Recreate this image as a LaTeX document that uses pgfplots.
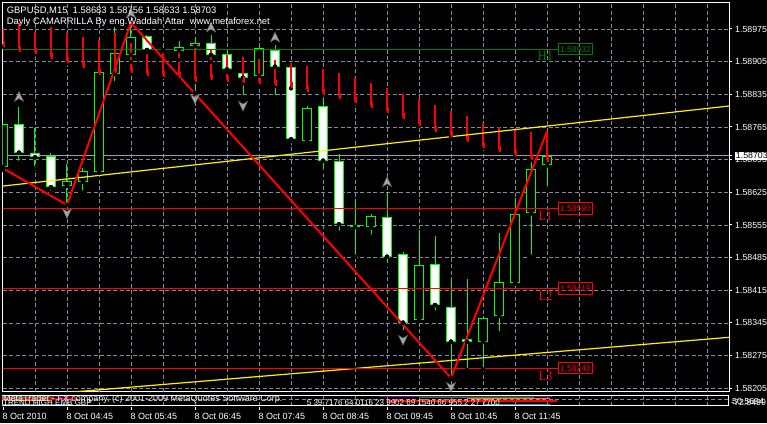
\documentclass[border=0pt]{standalone}
\usepackage{fontspec}
\setmainfont{Liberation Sans}
\newfontfamily\levelfont{Liberation Serif}
\usepackage{pgfplots}
\usepackage{pgfplotstable}
\pgfplotsset{compat=1.18}

\definecolor{candle}{RGB}{0,255,0}
\definecolor{gridc}{RGB}{128,140,158}
\definecolor{bidc}{RGB}{150,160,178}
\definecolor{hlevel}{RGB}{0,128,0}
\definecolor{llevel}{RGB}{255,0,0}
\definecolor{fractal}{RGB}{165,165,165}
\definecolor{fractaledge}{RGB}{110,110,110}

\newcommand\tfont{\fontsize{9}{10}\selectfont}
\newcommand\pfont{\fontsize{8.8}{10}\selectfont}
% time label with its small separator tick above the text
\newcommand\tlab[1]{\smash{\rlap{\raisebox{9.3pt}{\rule{1pt}{3.3pt}}}}#1}

% prices in points above 1.58000 (1 point = 0.00001), bars of 15 minutes from 03:45
\pgfplotstableread{
i o h l c
0 679.3 784.3 672.8 771.4
1 771.4 808.5 688.5 709.9
2 708.6 762.8 676.5 700.0
3 702.8 709.3 624.2 635.8
4 639.2 685.7 597.8 649.3
5 647.8 676.5 624.2 670.7
6 667.9 885.0 666.4 883.5
7 878.6 979.9 858.6 924.2
8 919.3 988.5 904.3 958.5
9 960.0 962.1 925.7 930.0
10 931.5 936.4 927.9 929.0
11 927.9 949.9 908.6 937.1
12 938.6 955.7 837.8 944.4
13 944.4 962.1 904.3 919.3
14 921.4 930.0 882.9 888.6
15 880.1 914.4 828.6 870.6
16 874.3 937.5 855.0 933.6
17 930.0 940.7 828.6 894.2
18 892.9 902.1 735.0 738.6
19 735.0 810.0 730.7 805.1
20 810.0 826.5 669.2 692.8
21 692.1 707.1 538.5 556.5
22 555.0 607.0 487.0 550.7
23 550.0 578.5 529.9 574.2
24 571.5 626.3 469.2 487.0
25 492.2 497.7 325.0 345.6
26 351.4 544.2 349.2 469.2
27 471.4 531.4 367.0 383.5
28 379.9 439.2 227.1 304.9
29 310.6 438.6 244.2 304.9
30 304.9 355.6 245.7 355.0
31 359.9 537.2 322.9 433.4
32 431.3 612.2 429.6 578.5
33 580.0 705.0 487.0 674.3
34 683 756 633 703
}\ohlc

% trend indicator bars (top and bottom of each red bar)
\pgfplotstableread{
i top bot
0 976.5 937.1
1 987.2 926.4
2 969.2 920.8
3 978.6 910.1
4 965.8 901.5
5 958.5 890.8
6 951.4 876.4
7 965.8 880.1
8 944.4 880.1
9 933.6 874.2
10 933.6 872.8
11 930.0 870.6
12 930.0 862.1
13 930.0 865.7
14 919.3 862.1
15 914.4 858.6
16 910.1 857.1
17 908.6 852.8
18 901.5 847.9
19 895.7 840.6
20 889.3 833.6
21 880.1 825.0
22 870.6 815.8
23 858.6 805.0
24 849.2 794.3
25 835.7 781.5
26 825.0 767.1
27 812.1 754.9
28 799.3 742.9
29 788.6 732.8
30 773.5 720.0
31 764.9 711.4
32 758.6 702.8
33 754.3 694.3
34 754.3 690.0
}\trendbars

\pgfplotstableread{
i y
1 829.9
8 1008.6
13 978.6
17 957.2
24 647.1
}\fracup

\pgfplotstableread{
i y
4 580.0
12 825.0
15 810.0
25 308.5
28 207.8
}\fracdown

\pgfdeclareplotmark{fractalup}{%
  \pgfpathmoveto{\pgfqpoint{0pt}{5pt}}%
  \pgfpathlineto{\pgfqpoint{4.5pt}{-4.5pt}}%
  \pgfpathlineto{\pgfqpoint{0pt}{-1.8pt}}%
  \pgfpathlineto{\pgfqpoint{-4.5pt}{-4.5pt}}%
  \pgfpathclose
  \pgfusepathqfillstroke}
\pgfdeclareplotmark{fractaldown}{%
  \pgfpathmoveto{\pgfqpoint{0pt}{-5pt}}%
  \pgfpathlineto{\pgfqpoint{4.5pt}{4.5pt}}%
  \pgfpathlineto{\pgfqpoint{0pt}{1.8pt}}%
  \pgfpathlineto{\pgfqpoint{-4.5pt}{4.5pt}}%
  \pgfpathclose
  \pgfusepathqfillstroke}
\pgfdeclareplotmark{trendtail}{%
  \pgfpathrectangle{\pgfqpoint{-0.2pt}{0pt}}{\pgfqpoint{2.2pt}{6pt}}%
  \pgfusepathqfill}

\begin{document}
\begin{tikzpicture}
\useasboundingbox (0,0) rectangle (767pt,423pt);
\fill[black] (0,0) rectangle (767pt,423pt);

\begin{axis}[
  at={(2.5pt,31.3pt)}, anchor=south west,
  scale only axis, width=726.8pt, height=389.2pt,
  xmin=-0.03, xmax=45.39, ymin=197.7, ymax=1031.8,
  axis line style={white, line width=1pt},
  tick align=outside, major tick length=3pt,
  tick style={white, line width=1pt},
  ytick pos=right, yticklabel pos=right,
  ytick={205,275,...,975},
  yticklabels={1.58205,1.58275,1.58345,1.58415,1.58485,1.58555,1.58625,1.58695,1.58765,1.58835,1.58905,1.58975},
  yticklabel style={font=\pfont, text=white, anchor=west, inner sep=0pt, xshift=2.7pt},
  ymajorgrids,
  major grid style={gridc, line width=0.9pt, dash pattern=on 4pt off 2.5pt},
  xtick pos=bottom,
  xtick={0,4,...,32},
  xticklabels={\tlab{8 Oct 2010},\tlab{8 Oct 04:45},\tlab{8 Oct 05:45},\tlab{8 Oct 06:45},\tlab{8 Oct 07:45},\tlab{8 Oct 08:45},\tlab{8 Oct 09:45},\tlab{8 Oct 10:45},\tlab{8 Oct 11:45}},
  xtick style={draw=none},
  xticklabel style={font=\tfont, text=white, anchor=base west, inner sep=0pt, yshift=-24.6pt, xshift=-0.5pt},
  extra x ticks={2,4,...,44},
  extra x tick labels={},
  extra x tick style={grid=major},
  extra y ticks={703},
  extra y tick labels={1.58703},
  extra y tick style={grid=major, major grid style={solid, bidc, line width=1pt},
    yticklabel style={fill=white, text=black, inner xsep=1.2pt, inner ysep=1.3pt, xshift=-0.5pt}},
]

% candle wicks
\addplot[only marks, mark=none, error bars/.cd, y dir=plus, y explicit, error mark=none,
  error bar style={draw=candle, line width=1pt}]
  table[x=i, y=l, y error plus expr={\thisrow{h}-\thisrow{l}}] {\ohlc};
% candle body outlines
\addplot[only marks, mark=none, error bars/.cd, y dir=plus, y explicit, error mark=none,
  error bar style={draw=candle, line width=10.5pt}]
  table[x=i, y expr={min(\thisrow{o},\thisrow{c})}, y error plus expr={abs(\thisrow{c}-\thisrow{o})}] {\ohlc};
% falling bars: white bodies
\addplot[only marks, mark=none, restrict expr to domain={\thisrow{o}-\thisrow{c}}{0:5000},
  error bars/.cd, y dir=plus, y explicit, error mark=none,
  error bar style={draw=white, line width=8.5pt, shorten <=1pt, shorten >=1pt}]
  table[x=i, y expr={min(\thisrow{o},\thisrow{c})}, y error plus expr={abs(\thisrow{c}-\thisrow{o})}] {\ohlc};
% rising bars: black bodies
\addplot[only marks, mark=none, restrict expr to domain={\thisrow{c}-\thisrow{o}}{0.01:5000},
  error bars/.cd, y dir=plus, y explicit, error mark=none,
  error bar style={draw=black, line width=8.5pt, shorten <=1pt, shorten >=1pt}]
  table[x=i, y expr={min(\thisrow{o},\thisrow{c})}, y error plus expr={abs(\thisrow{c}-\thisrow{o})}] {\ohlc};

% red trend indicator
\addplot[only marks, mark=none, error bars/.cd, y dir=plus, y explicit, error mark=none,
  error bar style={draw=red, line width=2pt}]
  table[x=i, y=bot, y error plus expr={\thisrow{top}-\thisrow{bot}}] {\trendbars};
\addplot[only marks, mark=trendtail, mark options={fill=red, draw=none}]
  table[x=i, y=bot] {\trendbars};

% channel lines
\addplot[yellow, line width=1.2pt] coordinates {(-1,634.7) (46,812.3)};
\addplot[yellow, line width=1.2pt] coordinates {(-1,181.7) (46,316.1)};

% daily Camarilla levels
\addplot[hlevel, line width=1pt] coordinates {(-1,932) (34.69,932)};
\addplot[llevel, line width=1pt] coordinates {(-1,590) (34.69,590)};
\addplot[llevel, line width=1pt] coordinates {(-1,419) (34.69,419)};
\addplot[llevel, line width=1pt] coordinates {(-1,248) (34.69,248)};

% zigzag
\addplot[red, line width=2pt, line join=bevel] coordinates {(0,676.5) (4,597.8) (8,988.5) (28,227.1) (34,756)};

% fractals
\addplot[only marks, mark=fractalup, mark options={fill=fractal, draw=fractaledge, line width=0.5pt}]
  table[x=i, y=y] {\fracup};
\addplot[only marks, mark=fractaldown, mark options={fill=fractal, draw=fractaledge, line width=0.5pt}]
  table[x=i, y=y] {\fracdown};

% level captions
\begin{scope}[every node/.style={inner xsep=1.5pt, inner ysep=2.6pt, text height=6.2pt, text depth=0pt, line width=1pt, anchor=west, font=\fontsize{8.5}{9}\selectfont}]
\node[draw=hlevel, text=hlevel] at (axis cs:34.69,932) {1.58932};
\node[draw=llevel, text=llevel] at (axis cs:34.69,590) {1.58590};
\node[draw=llevel, text=llevel] at (axis cs:34.69,419) {1.58419};
\node[draw=llevel, text=llevel] at (axis cs:34.69,248) {1.58248};
\end{scope}
\begin{scope}[every node/.style={inner sep=0pt, xscale=0.88, font=\levelfont\fontsize{14}{14}\selectfont}]
\node[text=hlevel, yshift=-7.2pt] at (axis cs:33.9,932) {H1};
\node[text=llevel, yshift=-7.6pt] at (axis cs:33.9,590) {L1};
\node[text=llevel, yshift=-7.6pt] at (axis cs:33.9,419) {L2};
\node[text=llevel, yshift=-7.6pt] at (axis cs:33.9,248) {L3};
\end{scope}
\end{axis}

% indicator sub-window
\begin{axis}[
  at={(2.5pt,17.5pt)}, anchor=south west,
  scale only axis, width=725.8pt, height=10.5pt,
  xmin=-0.03, xmax=45.33, ymin=0, ymax=10,
  axis line style={white, line width=1pt},
  xtick={2,4,...,44}, ytick={5.9}, xticklabels={}, yticklabels={},
  tick style={draw=none},
  grid=major, major grid style={gridc, line width=0.9pt, dash pattern=on 4pt off 2.5pt},
]
\addplot[violet, line width=1.2pt] coordinates {(-0.1,8.6) (4.3,8.6)};
\addplot[green!60!black, line width=1.2pt] coordinates {(-0.1,7.6) (3.2,7.6)};
\addplot[red!80!black, line width=1.2pt] coordinates {(-0.1,6.2) (4.6,6.2)};
\addplot[orange, line width=1pt] coordinates {(0.3,4.8) (3.0,4.8)};
\addplot[cyan!70!black, line width=1pt] coordinates {(-0.1,1.0) (4.4,1.0)};
\addplot[violet, line width=1.2pt] coordinates {(23.5,8.6) (34.3,8.6)};
\addplot[green!60!black, line width=1.2pt] coordinates {(26,7.6) (33.2,7.6)};
\addplot[orange, line width=1.2pt] coordinates {(29,6.6) (34.2,6.6)};
\addplot[red, line width=1.5pt] coordinates {(24,4.2) (34.6,4.2)};
\addplot[cyan!70!black, line width=1pt] coordinates {(30,1.0) (34.2,1.0)};
\end{axis}

\begin{scope}
\clip (3pt,17.5pt) rectangle (728pt,28pt);
\node[anchor=base west, text=white, font=\tfont, inner sep=0pt] at (3pt,22pt)
  {MetaTrader - FX company, (c) 2001-2009 MetaQuotes Software Corp.};
\node[anchor=base west, text=white, font=\fontsize{8}{9}\selectfont, inner sep=0pt] at (3pt,17.6pt)
  {TREND HIGH EMB GBP};
\node[anchor=base east, text=white, font=\fontsize{8}{9}\selectfont, inner sep=0pt] at (500pt,17.6pt)
  {5 39 7176 64 0116 23 9902 69 1540 66 955.2 27 7700};
\end{scope}
\node[anchor=base west, text=white, font=\pfont, inner sep=0pt] at (732pt,18.5pt) {50.5694};
\node[anchor=base west, text=white, font=\pfont, inner sep=0pt] at (731pt,17.5pt) {-72.8499};

% chart caption
\node[anchor=base west, text=white, font=\fontsize{9.4}{10}\selectfont, inner sep=0pt] at (6.7pt,409.3pt)
  {GBPUSD,M15\ \ 1.58683 1.58756 1.58633 1.58703};
\node[anchor=base west, text=white, font=\fontsize{9.4}{10}\selectfont, inner sep=0pt] at (6.7pt,398.7pt)
  {Dayly CAMARRILLA By eng.Waddah Attar\ \ www.metaforex.net};
\end{tikzpicture}
\end{document}
